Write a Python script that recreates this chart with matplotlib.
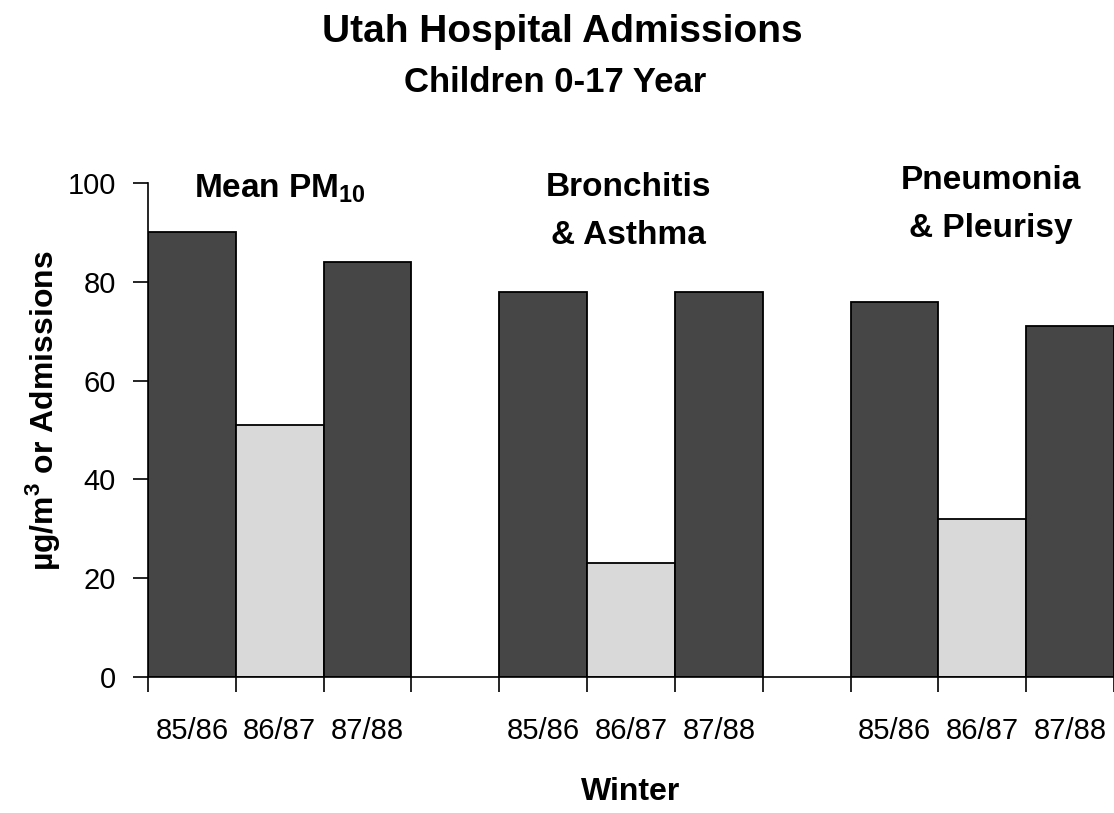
import matplotlib
matplotlib.use("Agg")
import matplotlib.pyplot as plt
import numpy as np

# data
winters = ['85/86', '86/87', '87/88']
groups = ['Mean PM$_\\mathbf{10}$', 'Bronchitis\n& Asthma', 'Pneumonia\n& Pleurisy']
pm10 = [90, 51, 84]
bronchitis = [78, 23, 78]
pneumonia = [76, 32, 71]
series = [pm10, bronchitis, pneumonia]

plt.rcParams['font.family'] = ['Liberation Sans', 'DejaVu Sans']
plt.rcParams['mathtext.fontset'] = 'custom'
plt.rcParams['mathtext.rm'] = 'Liberation Sans'
plt.rcParams['mathtext.bf'] = 'Liberation Sans:bold'

# bar colours for 85/86, 86/87, 87/88
faces = ['#464646', '#d9d9d9', '#464646']

fig = plt.figure(figsize=(11.14, 8.13), dpi=100)
ax = fig.add_axes([148 / 1114, 1 - 677 / 813, 1 - 148 / 1114, (677 - 183) / 813])

centers = []
edges = []
for g, vals in enumerate(series):
    start = 4 * g
    x = start + 0.5 + np.arange(len(vals))
    ax.bar(x, vals, width=1.0, color=faces, edgecolor='black', linewidth=1.3, zorder=2)
    centers.extend(x)
    edges.extend(start + np.arange(len(vals) + 1))

ax.set_xlim(0, 11)
ax.set_ylim(0, 100)

ax.spines['top'].set_visible(False)
ax.spines['right'].set_visible(False)
ax.spines['left'].set_linewidth(1.2)
ax.spines['bottom'].set_linewidth(1.2)
ax.spines['bottom'].set_zorder(4)

ax.set_yticks(np.arange(0, 101, 20))
ax.tick_params(axis='y', direction='out', length=11, width=1.2, labelsize=21, pad=12)

ax.set_xticks(centers)
ax.set_xticklabels(winters * 3)
ax.set_xticks(edges, minor=True)
ax.tick_params(axis='x', which='major', length=0, labelsize=21, pad=29)
ax.tick_params(axis='x', which='minor', direction='out', length=11, width=1.2)
for t in ax.xaxis.get_minor_ticks():
    t.tick1line.set_clip_on(False)

# group labels above the bars
label_x = [1.5, 5.47, 9.6]
label_y = [97.2, 102.2, 103.6]
label_va = ['baseline', 'top', 'top']
for g, name in enumerate(groups):
    ax.text(label_x[g], label_y[g], name, ha='center', va=label_va[g], fontsize=24,
            fontweight='bold', linespacing=1.7, multialignment='center', clip_on=False)

ax.set_xlabel('Winter', fontsize=23, fontweight='bold', va='center')
ax.xaxis.set_label_coords(0.5, -0.232)
ax.set_ylabel('µg/m$^\\mathbf{3}$ or Admissions', fontsize=23, fontweight='bold', va='center')
ax.yaxis.set_label_coords(-0.109, 0.54)

fig.text(0.505, 1 - 32 / 813, 'Utah Hospital Admissions', ha='center', va='center',
         fontsize=28, fontweight='bold')
fig.text(0.498, 1 - 82 / 813, 'Children 0-17 Year', ha='center', va='center',
         fontsize=25, fontweight='bold')

fig.savefig('out.png', dpi=100, facecolor='white')
